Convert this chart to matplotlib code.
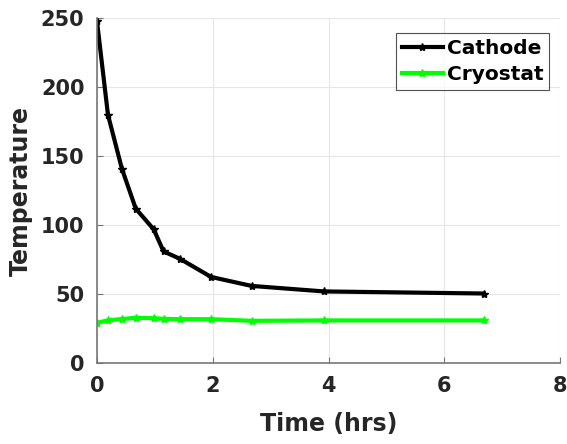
import matplotlib
matplotlib.use("Agg")
import matplotlib.pyplot as plt

time_hrs = [0, 0.19, 0.43, 0.67, 0.98, 1.15, 1.44, 1.97, 2.67, 3.92, 6.68]
cathode = [248, 180, 141, 112, 97, 81, 75.5, 62.5, 56, 52, 50.5]
cryostat = [29.3, 31, 32, 32.9, 32.6, 32.1, 31.9, 31.9, 30.7, 31, 31]
xticks = [0, 2, 4, 6, 8]
yticks = [0, 50, 100, 150, 200, 250]

plt.rcParams['font.family'] = ['DejaVu Sans']
plt.rcParams['font.weight'] = 'bold'

fig = plt.figure(figsize=(5.67, 4.44), dpi=100)
ax = fig.add_axes([0.171, 0.182, 0.817, 0.777])

ax.plot(time_hrs, cathode, '-', color='black', lw=3, marker='*', ms=6, label='Cathode')
ax.plot(time_hrs, cryostat, '-', color='#00ff00', lw=3, marker='*', ms=6, mec='#00ff00', label='Cryostat')

ax.set_xlim(0, 8)
ax.set_ylim(0, 250)
ax.set_xticks(xticks)
ax.set_yticks(yticks)
ax.grid(True, color='#e6e6e6', lw=0.8)
ax.set_axisbelow(True)
for s in ['top', 'right']:
    ax.spines[s].set_visible(False)
for s in ['left', 'bottom']:
    ax.spines[s].set_color('#777777')
    ax.spines[s].set_linewidth(1.2)
ax.tick_params(axis='x', pad=9)
ax.tick_params(axis='y', pad=9)
ax.tick_params(direction='in', length=4, colors='#777777', labelcolor='#262626', labelsize=15)
for lbl in ax.get_xticklabels() + ax.get_yticklabels():
    lbl.set_fontweight('bold')

ax.set_xlabel('Time (hrs)', fontsize=17, fontweight='bold', color='#262626', labelpad=12)
ax.set_ylabel('Temperature', fontsize=17, fontweight='bold', color='#262626', labelpad=6)

leg = ax.legend(loc='upper right', bbox_to_anchor=(0.985, 0.968), fontsize=14.5, frameon=True,
                fancybox=False, edgecolor='#262626', handlelength=2.0, handletextpad=0.2,
                borderpad=0.3, labelspacing=0.35, borderaxespad=0.2)
leg.get_frame().set_linewidth(0.8)
for t in leg.get_texts():
    t.set_fontweight('bold')

fig.savefig('out.png', dpi=100)
